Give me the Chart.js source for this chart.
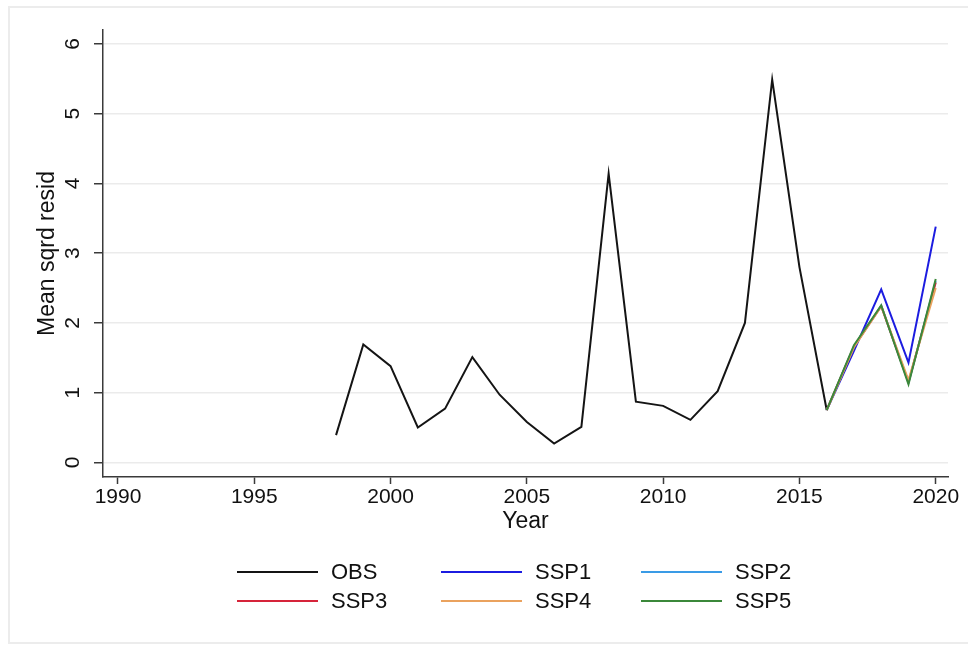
<!DOCTYPE html>
<html>
<head>
<meta charset="utf-8">
<script src="https://cdn.jsdelivr.net/npm/chart.js@4.4.1/dist/chart.umd.min.js"></script>
<style>
  html, body { margin: 0; padding: 0; background: #fff; }
  #wrap { position: relative; width: 968px; height: 648px; overflow: hidden; }
  #c { position: absolute; left: 0; top: 0; }
  #legend {
    position: absolute; left: 237px; top: 560px;
    display: grid; grid-template-columns: 204px 200px 200px; row-gap: 5px;
    font-family: "Liberation Sans", Arial, sans-serif; font-size: 22px; color: #111;
  }
  .item { display: flex; align-items: center; height: 24px; white-space: nowrap; }
  .swatch { width: 81px; height: 2px; margin-right: 13px; }
</style>
</head>
<body>
<div id="wrap">
  <canvas id="c" width="968" height="648"></canvas>
  <div id="legend"></div>
</div>
<script>
// Observed mean squared residuals by year
const obsYears = [1998, 1999, 2000, 2001, 2002, 2003, 2004, 2005, 2006, 2007,
                  2008, 2009, 2010, 2011, 2012, 2013, 2014, 2015, 2016];
const obsValues = [0.39, 1.69, 1.38, 0.50, 0.77, 1.51, 0.97, 0.58, 0.27, 0.51,
                   4.14, 0.87, 0.81, 0.61, 1.02, 2.00, 5.49, 2.80, 0.75];

// Scenario projections
const sspYears = [2016, 2017, 2018, 2019, 2020];
const ssp1 = [0.75, 1.60, 2.48, 1.43, 3.38];
const ssp2 = [0.75, 1.66, 2.25, 1.14, 2.60];
const ssp3 = [0.75, 1.66, 2.24, 1.15, 2.58];
const ssp4 = [0.75, 1.65, 2.24, 1.18, 2.50];
const ssp5 = [0.75, 1.68, 2.25, 1.12, 2.63];

// Axis ticks
const xTicks = [1990, 1995, 2000, 2005, 2010, 2015, 2020];
const yTicks = [0, 1, 2, 3, 4, 5, 6];

const seriesNames = ['OBS', 'SSP1', 'SSP2', 'SSP3', 'SSP4', 'SSP5'];
const seriesColors = ['#141414', '#1c1ce0', '#3a9be6', '#d6243a', '#eaa25e', '#3b883a'];

const pairs = (xs, ys) => xs.map((x, i) => ({ x: x, y: ys[i] }));
const seriesData = [
  pairs(obsYears, obsValues),
  pairs(sspYears, ssp1),
  pairs(sspYears, ssp2),
  pairs(sspYears, ssp3),
  pairs(sspYears, ssp4),
  pairs(sspYears, ssp5)
];

// later series are painted on top
const datasets = seriesNames.map((name, i) => ({
  label: name,
  data: seriesData[i],
  borderColor: seriesColors[i],
  backgroundColor: seriesColors[i],
  borderWidth: 2,
  pointRadius: 0,
  tension: 0,
  fill: false,
  order: seriesNames.length - i
}));

const FONT = '"Liberation Sans", Arial, sans-serif';
const AXIS = '#3a3a3a';

// faint outer frame around the graph region
const framePlugin = {
  id: 'frame',
  beforeDraw(chart) {
    const ctx = chart.ctx;
    ctx.save();
    ctx.fillStyle = '#ffffff';
    ctx.fillRect(0, 0, chart.width, chart.height);
    ctx.strokeStyle = '#ececec';
    ctx.lineWidth = 2;
    ctx.strokeRect(9, 7, chart.width + 20, 636);
    ctx.restore();
  }
};

new Chart(document.getElementById('c'), {
  type: 'line',
  data: { datasets: datasets },
  plugins: [framePlugin],
  options: {
    responsive: false,
    animation: false,
    events: [],
    layout: { padding: { top: 30, right: 20, bottom: 108, left: 0 } },
    plugins: { legend: { display: false }, tooltip: { enabled: false } },
    scales: {
      x: {
        type: 'linear',
        min: 1989.45,
        max: 2020.45,
        afterBuildTicks: (s) => { s.ticks = xTicks.map(v => ({ value: v })); },
        afterFit: (s) => { s.height = 63; },
        grid: {
          display: true, drawOnChartArea: false, drawTicks: true,
          tickLength: 7, tickColor: AXIS, tickWidth: 1.5
        },
        border: { display: true, color: AXIS, width: 1.5 },
        ticks: {
          color: '#111', padding: 1, maxRotation: 0, minRotation: 0, autoSkip: false,
          font: { family: FONT, size: 21 },
          callback: (v) => String(v)
        },
        title: {
          display: true, text: 'Year', color: '#111',
          font: { family: FONT, size: 23 },
          padding: { top: 0, bottom: 5 }
        }
      },
      y: {
        type: 'linear',
        min: -0.21,
        max: 6.2,
        afterBuildTicks: (s) => { s.ticks = yTicks.map(v => ({ value: v })); },
        afterFit: (s) => { s.width = 103; },
        grid: {
          display: true, drawOnChartArea: true, drawTicks: true,
          color: '#ebebeb', lineWidth: 1.5,
          tickLength: 9, tickColor: AXIS, tickWidth: 1.5
        },
        border: { display: true, color: AXIS, width: 1.5 },
        ticks: {
          color: '#111', padding: 15, minRotation: 90, maxRotation: 90,
          crossAlign: 'center', autoSkip: false,
          font: { family: FONT, size: 21 },
          callback: (v) => String(v)
        },
        title: {
          display: true, text: 'Mean sqrd resid', color: '#111',
          font: { family: FONT, size: 23 },
          padding: { top: 34, bottom: 0 }
        }
      }
    }
  }
});

// legend laid out in three columns, two rows
const legend = document.getElementById('legend');
seriesNames.forEach((name, i) => {
  const item = document.createElement('div');
  item.className = 'item';
  const sw = document.createElement('span');
  sw.className = 'swatch';
  sw.style.background = seriesColors[i];
  const tx = document.createElement('span');
  tx.textContent = name;
  item.appendChild(sw);
  item.appendChild(tx);
  legend.appendChild(item);
});
</script>
</body>
</html>
